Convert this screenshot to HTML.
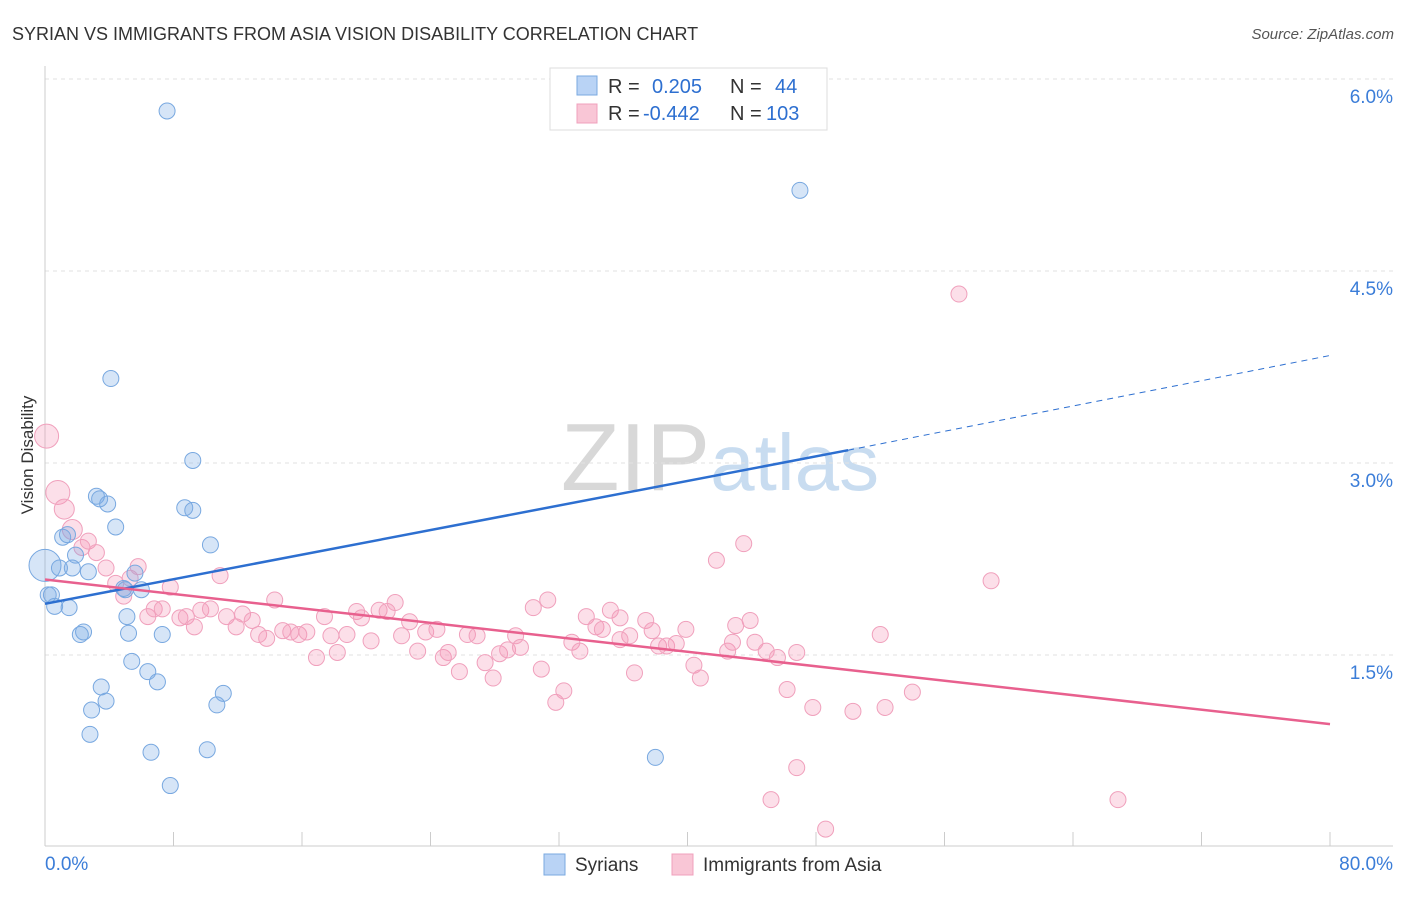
<!DOCTYPE html>
<html><head><meta charset="utf-8"><style>
body{margin:0;background:#fff;font-family:"Liberation Sans",sans-serif;}
svg text{font-family:"Liberation Sans",sans-serif;}
</style></head><body>
<svg id="chart" width="1406" height="892" xmlns="http://www.w3.org/2000/svg">
<text x="12" y="40" font-size="18" fill="#333">SYRIAN VS IMMIGRANTS FROM ASIA VISION DISABILITY CORRELATION CHART</text>
<text x="1394" y="39" font-size="15" fill="#555" font-style="italic" text-anchor="end">Source: ZipAtlas.com</text>
<text transform="translate(33,455) rotate(-90)" font-size="17" fill="#333" text-anchor="middle">Vision Disability</text>
<text x="720" y="490" font-size="96" fill="#d8d8d8" text-anchor="middle" font-family="Liberation Serif">ZIP<tspan fill="#c8dcf0" font-family="Liberation Sans" font-size="80">atlas</tspan></text>
<g id="grid"></g><g id="axes"></g><g id="marks"></g><g id="lines"></g>
<g>
<rect x="550" y="68" width="277" height="62" fill="#fff" stroke="#ddd"/>
<rect x="577" y="76" width="20" height="19" fill="#b9d3f5" stroke="#7aaae0"/>
<rect x="577" y="104" width="20" height="19" fill="#f9c6d6" stroke="#f0a0bc"/>
<text x="608" y="93" font-size="20" fill="#333">R =</text>
<text x="652" y="93" font-size="20" fill="#2d6fd0">0.205</text>
<text x="730" y="93" font-size="20" fill="#333">N =</text>
<text x="775" y="93" font-size="20" fill="#2d6fd0">44</text>
<text x="608" y="120" font-size="20" fill="#333">R =</text>
<text x="643" y="120" font-size="20" fill="#2d6fd0">-0.442</text>
<text x="730" y="120" font-size="20" fill="#333">N =</text>
<text x="766" y="120" font-size="20" fill="#2d6fd0">103</text>
</g>
<g>
<rect x="544" y="854" width="21" height="21" fill="#b9d3f5" stroke="#7aaae0"/>
<text x="575" y="871" font-size="19" fill="#333">Syrians</text>
<rect x="672" y="854" width="21" height="21" fill="#f9c6d6" stroke="#f0a0bc"/>
<text x="703" y="871" font-size="19" fill="#333">Immigrants from Asia</text>
</g>
</svg>
<script>
const xTicks=[0,8,16,24,32,40,48,56,64,72,80];
const yTicks=[1.5,3.0,4.5,6.0];
const syrX=[7.6,47,4.1,9.2,3.2,3.4,3.9,8.7,9.2,4.4,10.3,1.1,1.4,1.9,0,0.9,1.7,2.7,5.6,4.9,6.0,0.4,0.6,1.5,5.1,2.4,2.2,5.2,7.3,5.4,6.4,7.0,3.5,11.1,3.8,10.7,2.9,2.8,6.6,10.1,38.0,7.8,0.2,5.0];
const syrY=[5.75,5.13,3.66,3.02,2.74,2.72,2.68,2.65,2.63,2.50,2.36,2.42,2.44,2.28,2.20,2.18,2.18,2.15,2.14,2.02,2.01,1.97,1.88,1.87,1.80,1.68,1.66,1.67,1.66,1.45,1.37,1.29,1.25,1.20,1.14,1.11,1.07,0.88,0.74,0.76,0.70,0.48,1.97,2.01];
const asiaX=[0.1,0.8,1.2,1.7,2.3,2.7,3.2,3.8,4.4,4.9,5.3,5.8,6.4,6.8,7.3,7.8,8.4,8.8,9.3,9.7,10.3,10.9,11.3,11.9,12.3,12.9,13.3,13.8,14.3,14.8,15.3,15.8,16.3,16.9,17.4,17.8,18.2,18.8,19.4,19.7,20.3,20.8,21.3,21.8,22.2,22.7,23.2,23.7,24.4,24.8,25.1,25.8,26.3,26.9,27.4,27.9,28.3,28.8,29.3,29.6,30.4,30.9,31.3,31.8,32.3,32.8,33.3,33.7,34.3,34.7,35.2,35.8,36.4,36.7,37.4,37.8,38.2,38.7,39.3,39.9,40.4,40.8,41.8,42.5,42.8,43.5,43.9,44.2,44.9,45.6,46.2,46.8,46.8,47.8,48.6,50.3,52.0,52.3,54.0,56.9,58.9,66.8,45.2,43.0,35.8];
const asiaY=[3.21,2.77,2.64,2.48,2.34,2.39,2.30,2.18,2.06,1.96,2.10,2.19,1.80,1.86,1.86,2.03,1.79,1.80,1.72,1.85,1.86,2.12,1.80,1.72,1.82,1.77,1.66,1.63,1.93,1.69,1.68,1.66,1.68,1.48,1.80,1.65,1.52,1.66,1.84,1.79,1.61,1.85,1.84,1.91,1.65,1.76,1.53,1.68,1.70,1.48,1.52,1.37,1.66,1.65,1.44,1.32,1.51,1.54,1.65,1.56,1.87,1.39,1.93,1.13,1.22,1.60,1.53,1.80,1.72,1.70,1.85,1.79,1.65,1.36,1.77,1.69,1.57,1.57,1.59,1.70,1.42,1.32,2.24,1.53,1.60,2.37,1.77,1.60,1.53,1.48,1.23,0.62,1.52,1.09,0.14,1.06,1.66,1.09,1.21,4.32,2.08,0.37,0.37,1.73,1.62];
const X=v=>45+v/80*1285, Y=v=>847-v*128;
const ns="http://www.w3.org/2000/svg";
function mk(parent,tag,attrs){const e=document.createElementNS(ns,tag);for(const k in attrs)e.setAttribute(k,attrs[k]);document.getElementById(parent).appendChild(e);return e;}
yTicks.forEach(t=>{
 const l=mk('grid','line',{x1:45,x2:1393,y1:Y(t),y2:Y(t),stroke:'#e2e2e2','stroke-dasharray':'4,4'});
 
 
 const tx=mk('axes','text',{x:1393,y:Y(t)+24,'font-size':19,fill:'#3b7dd8','text-anchor':'end'});
 tx.textContent=t.toFixed(1)+'%';
 
 
});
const ax=mk('axes','line',{x1:45,x2:1393,y1:846,y2:846,stroke:'#ccc'});


const ay=mk('axes','line',{x1:45,x2:45,y1:66,y2:846,stroke:'#ccc'});


xTicks.forEach(t=>{
 const l=mk('axes','line',{x1:X(t),x2:X(t),y1:832,y2:846,stroke:'#ccc'});
 
 
});
[[0,'start'],[80,'end']].forEach(([t,a])=>{
 const tx=mk('axes','text',{x:t==0?45:1393,y:870,'font-size':19,fill:'#3b7dd8','text-anchor':a});
 tx.textContent=t.toFixed(1)+'%';
 
 
});
asiaX.forEach((v,i)=>{
 const c=mk('marks','circle',{cx:X(v),cy:Y(asiaY[i]),r:i<2?12:(i<4?10:8),fill:'rgba(244,150,182,0.3)',stroke:'#f0a0bc','stroke-width':1});
 
 
});
syrX.forEach((v,i)=>{
 const c=mk('marks','circle',{cx:X(v),cy:Y(syrY[i]),r:v===0?16:8,fill:'rgba(120,170,230,0.3)',stroke:'#78a8e0','stroke-width':1});
 
 
});
const bl=mk('lines','line',{x1:X(0),y1:Y(1.9),x2:X(50),y2:Y(3.1),stroke:'#2d6fd0','stroke-width':2.5});


const bd=mk('lines','line',{x1:X(50),y1:Y(3.1),x2:X(80),y2:Y(3.84),stroke:'#2d6fd0','stroke-width':1,'stroke-dasharray':'6,5'});


const pl=mk('lines','line',{x1:X(0),y1:Y(2.09),x2:X(80),y2:Y(0.96),stroke:'#e8608e','stroke-width':2.5});


</script>
</body></html>
